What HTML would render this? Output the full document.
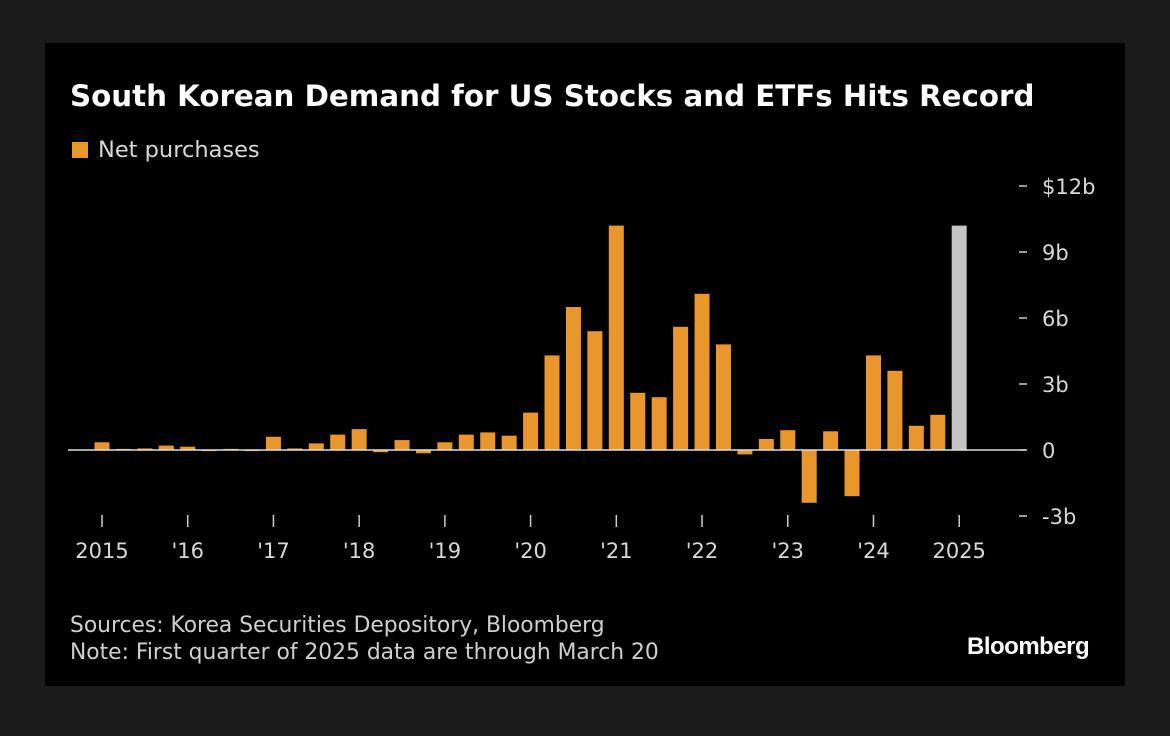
<!DOCTYPE html>
<html><head><meta charset="utf-8"><style>
html,body{margin:0;padding:0;background:#1b1b1b;width:1170px;height:736px;overflow:hidden;font-family:"DejaVu Sans",sans-serif}
#panel{position:absolute;left:45px;top:43px;width:1080px;height:643px;background:#000}
.t{position:absolute;white-space:nowrap}
</style></head><body>
<div id="panel"></div>
<div class="t" style="left:70px;top:79px;font-size:29.3px;font-weight:bold;color:#fff">South Korean Demand for US Stocks and ETFs Hits Record</div>
<div class="t" style="left:72px;top:137px;font-size:22.5px;color:#d8d8d8"><span style="display:inline-block;width:16px;height:16px;background:#e9962c;margin-right:10px;vertical-align:-1px"></span>Net purchases</div>
<svg id="chart" width="1170" height="736" style="position:absolute;left:0;top:0"></svg>
<div class="t" style="left:70px;top:612px;font-size:21.8px;color:#cfcfcf;line-height:27px">Sources: Korea Securities Depository, Bloomberg<br>Note: First quarter of 2025 data are through March 20</div>
<div class="t" style="left:967px;top:633px;font-size:24px;font-weight:bold;color:#fff;letter-spacing:-0.5px;font-family:'Liberation Sans',sans-serif">Bloomberg</div>
<script>
const values=[0.35,0.05,0.07,0.2,0.15,-0.05,0.05,-0.05,0.6,0.07,0.3,0.7,0.95,-0.1,0.45,-0.15,0.35,0.7,0.8,0.65,1.7,4.3,6.5,5.4,10.2,2.6,2.4,5.6,7.1,4.8,-0.2,0.5,0.9,-2.4,0.85,-2.1,4.3,3.6,1.1,1.6,10.2];
const yTicks=[12,9,6,3,0,-3];
const yLabels=["$12b","9b","6b","3b","0","-3b"];
const xLabels=["2015","'16","'17","'18","'19","'20","'21","'22","'23","'24","2025"];
const NS="http://www.w3.org/2000/svg";
const svg=document.getElementById('chart');
const y=v=>450-v*22;
const x=i=>102+i*21.43;
function el(t,a){const e=document.createElementNS(NS,t);for(const k in a)e.setAttribute(k,a[k]);svg.appendChild(e);return e;}
values.forEach((v,i)=>{
 const r=el('rect',{x:x(i)-7.5,y:Math.min(y(v),y(0)),width:15,height:Math.abs(y(v)-y(0)),fill:i===values.length-1?'#c4c4c4':'#e9962c'});
 
 
});
const z=el('line',{x1:68,x2:1026,y1:y(0),y2:y(0),stroke:'#ddd','stroke-width':1.5});


yTicks.forEach((v,i)=>{
 el('line',{x1:1019,x2:1027,y1:y(v),y2:y(v),stroke:'#ccc','stroke-width':1.5});
 const t=el('text',{x:1042,y:y(v)+8,fill:'#d8d8d8','font-size':21,'font-family':'DejaVu Sans'});
 t.textContent=yLabels[i];
 
 
});
xLabels.forEach((l,i)=>{
 const xx=x(i*4);
 el('line',{x1:xx,x2:xx,y1:515,y2:527,stroke:'#ccc','stroke-width':1.5});
 const t=el('text',{x:xx,y:558,fill:'#d8d8d8','font-size':21,'font-family':'DejaVu Sans','text-anchor':'middle'});
 t.textContent=l;
 
 
});
</script>
</body></html>
